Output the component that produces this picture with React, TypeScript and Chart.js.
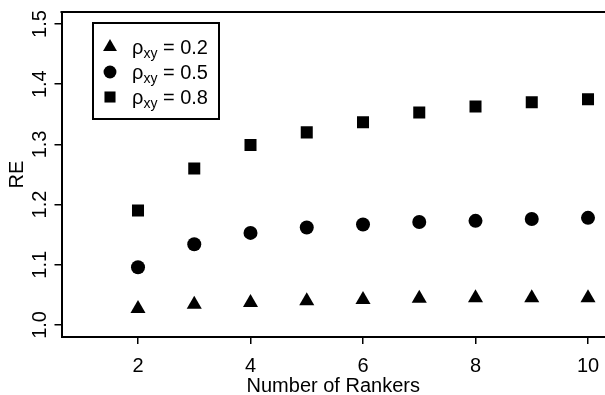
import React, { useEffect, useRef } from "react";
import { Chart, registerables } from "chart.js";

Chart.register(...registerables);

const rankers = [2, 3, 4, 5, 6, 7, 8, 9, 10];
const re02 = [1.027, 1.034, 1.037, 1.04, 1.042, 1.044, 1.045, 1.045, 1.045];
const re05 = [1.096, 1.134, 1.153, 1.162, 1.167, 1.171, 1.173, 1.176, 1.178];
const re08 = [1.19, 1.26, 1.299, 1.32, 1.337, 1.353, 1.363, 1.37, 1.375];
const xTicks = [2, 4, 6, 8, 10];
const yTicks = [1.0, 1.1, 1.2, 1.3, 1.4, 1.5];
const legendRho = ["0.2", "0.5", "0.8"];
const xTitle = "Number of Rankers";
const yTitle = "RE";

const FONT = "'Liberation Sans', Arial, Helvetica, sans-serif";

function drawMarker(ctx: CanvasRenderingContext2D, style: string, x: number, y: number, r: number) {
  ctx.beginPath();
  if (style === "triangle") {
    let rad = 0;
    ctx.moveTo(x + Math.sin(rad) * r, y - Math.cos(rad) * r);
    rad += (2 * Math.PI) / 3;
    ctx.lineTo(x + Math.sin(rad) * r, y - Math.cos(rad) * r);
    rad += (2 * Math.PI) / 3;
    ctx.lineTo(x + Math.sin(rad) * r, y - Math.cos(rad) * r);
    ctx.closePath();
  } else if (style === "rect") {
    const s = Math.SQRT1_2 * r;
    ctx.rect(x - s, y - s, 2 * s, 2 * s);
  } else {
    ctx.arc(x, y, r, 0, Math.PI * 2);
  }
  ctx.fill();
}

const boxPlugin = {
  id: "boxAndLegend",
  afterDraw(chart: any) {
    const ctx: CanvasRenderingContext2D = chart.ctx;
    const a = chart.chartArea;
    ctx.save();
    ctx.strokeStyle = "#000";
    ctx.lineWidth = 2;
    ctx.beginPath();
    ctx.moveTo(a.left - 1, a.top);
    ctx.lineTo(a.right, a.top);
    ctx.stroke();

    // legend
    const bx = 93, by = 23, bw = 126, bh = 96;
    ctx.lineWidth = 2;
    ctx.strokeRect(bx, by, bw, bh);
    ctx.fillStyle = "#000";
    ctx.textAlign = "left";
    ctx.textBaseline = "alphabetic";
    chart.data.datasets.forEach((ds: any, i: number) => {
      const cy = 47 + i * 25;
      drawMarker(ctx, ds.pointStyle, 110, cy, ds.pointRadius * 0.92);
      let x = 132;
      const base = cy + 7;
      ctx.font = `20px ${FONT}`;
      ctx.fillText("\u03C1", x, base);
      x += ctx.measureText("\u03C1").width;
      ctx.font = `14px ${FONT}`;
      ctx.fillText("xy", x, base + 4);
      x += ctx.measureText("xy").width;
      ctx.font = `20px ${FONT}`;
      ctx.fillText(" = " + legendRho[i], x, base);
    });
    ctx.restore();
  },
};

export default function App() {
  const ref = useRef<HTMLCanvasElement | null>(null);
  useEffect(() => {
    if (!ref.current) return;
    const mk = (vals: number[]) => rankers.map((x, i) => ({ x, y: vals[i] }));
    const chart = new Chart(ref.current, {
      type: "scatter",
      data: {
        datasets: [
          { label: "0.2", data: mk(re02), pointStyle: "triangle", pointRadius: 8.7, backgroundColor: "#000", borderWidth: 0 },
          { label: "0.5", data: mk(re05), pointStyle: "circle", pointRadius: 7, backgroundColor: "#000", borderWidth: 0 },
          { label: "0.8", data: mk(re08), pointStyle: "rect", pointRadius: 8.5, backgroundColor: "#000", borderWidth: 0 },
        ] as any,
      },
      options: {
        animation: false,
        responsive: false,
        devicePixelRatio: 1,
        layout: { autoPadding: false, padding: { top: 12, left: 0, right: 0, bottom: 0 } },
        plugins: { legend: { display: false }, tooltip: { enabled: false } },
        scales: {
          x: {
            type: "linear",
            min: 0.64,
            max: 10.302,
            afterBuildTicks: (s: any) => {
              s.ticks = xTicks.map((v) => ({ value: v }));
            },
            afterFit: (s: any) => {
              s.height = 58;
              s.paddingLeft = 0;
              s.paddingRight = 0;
            },
            grid: { drawOnChartArea: false, drawTicks: true, tickLength: 7, color: "#000", lineWidth: 1.5 },
            border: { display: true, color: "#000", width: 2 },
            ticks: {
              color: "#000",
              font: { family: FONT, size: 20 },
              padding: 10,
              maxRotation: 0,
              autoSkip: false,
              callback: (v: any) => String(v),
            },
            title: {
              display: true,
              text: xTitle,
              color: "#000",
              font: { family: FONT, size: 20, lineHeight: 1 },
              padding: { top: 0, bottom: -1 },
            },
          },
          y: {
            type: "linear",
            min: 0.98,
            max: 1.52,
            afterBuildTicks: (s: any) => {
              s.ticks = yTicks.map((v) => ({ value: v }));
            },
            afterFit: (s: any) => {
              s.width = 61.5;
              s.paddingTop = 0;
              s.paddingBottom = 0;
            },
            grid: { drawOnChartArea: false, drawTicks: true, tickLength: 7, color: "#000", lineWidth: 1.5 },
            border: { display: true, color: "#000", width: 2 },
            ticks: {
              color: "#000",
              font: { family: FONT, size: 20 },
              padding: 0,
              minRotation: 90,
              maxRotation: 90,
              crossAlign: "center",
              autoSkip: false,
              callback: (v: any) => Number(v).toFixed(1),
            },
            title: {
              display: true,
              text: yTitle,
              color: "#000",
              font: { family: FONT, size: 20, lineHeight: 1 },
              padding: { top: 7, bottom: 0 },
            },
          },
        },
      },
      plugins: [boxPlugin],
    });
    return () => chart.destroy();
  }, []);
  return (
    <div style={{ position: "absolute", left: 0, top: 0, width: 605, height: 395, background: "#fff" }}>
      <canvas ref={ref} width={605} height={395} style={{ display: "block" }} />
    </div>
  );
}
